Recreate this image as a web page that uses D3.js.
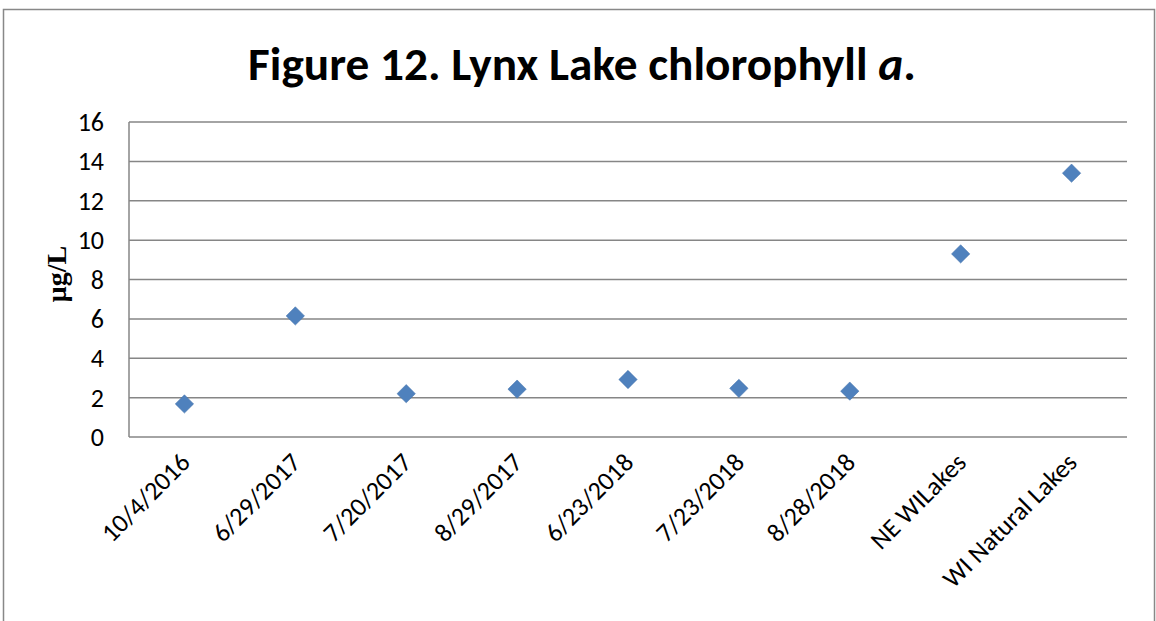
<!DOCTYPE html>
<html>
<head>
<meta charset="utf-8">
<script src="https://cdn.jsdelivr.net/npm/d3@7"></script>
<style>
  body { margin: 0; background: #fff; }
  svg { display: block; }
</style>
</head>
<body>
<svg id="chart" width="1156" height="621"></svg>
<script>
// chart data
const categories = ["10/4/2016", "6/29/2017", "7/20/2017", "8/29/2017", "6/23/2018",
                    "7/23/2018", "8/28/2018", "NE WILakes", "WI Natural Lakes"];
const chlorophyll = [1.68, 6.15, 2.2, 2.43, 2.92, 2.47, 2.33, 9.3, 13.4];
const yTicks = [0, 2, 4, 6, 8, 10, 12, 14, 16];

const svg = d3.select("#chart");
const plot = {left: 129, right: 1127, top: 122, bottom: 437};
const font = "Calibri, Carlito, 'Open Sans', sans-serif";

// outer frame
svg.append("rect")
  .attr("x", 3.5).attr("y", 9.5)
  .attr("width", 1151).attr("height", 640)
  .attr("fill", "none").attr("stroke", "#888").attr("stroke-width", 1.5);

const x = d3.scaleBand().domain(categories).range([plot.left, plot.right]);
const y = d3.scaleLinear().domain([0, 16]).range([plot.bottom, plot.top]);

// gridlines
svg.append("g").selectAll("line")
  .data(yTicks)
  .join("line")
  .attr("x1", plot.left).attr("x2", plot.right)
  .attr("y1", d => y(d)).attr("y2", d => y(d))
  .attr("stroke", "#868686").attr("stroke-width", 1.5);

// left axis line
svg.append("line")
  .attr("x1", plot.left).attr("x2", plot.left)
  .attr("y1", plot.top).attr("y2", plot.bottom)
  .attr("stroke", "#868686").attr("stroke-width", 1.5);

// y tick labels
svg.append("g").selectAll("text")
  .data(yTicks)
  .join("text")
  .attr("x", 104).attr("y", d => y(d))
  .attr("dy", "0.35em")
  .attr("text-anchor", "end")
  .style("font", "26px " + font)
  .attr("fill", "#000")
  .text(d => d);

// y axis title
svg.append("text")
  .attr("transform", "translate(66,274) rotate(-90)")
  .attr("text-anchor", "middle")
  .style("font", "bold 28px 'Liberation Serif', 'Times New Roman', serif")
  .text("μg/L");

// x labels, rotated
svg.append("g").selectAll("text")
  .data(categories)
  .join("text")
  .attr("transform", d => `translate(${x(d) + x.bandwidth() / 2 + 7},${plot.bottom + 27}) rotate(-45)`)
  .attr("text-anchor", "end")
  .style("font", "26px " + font)
  .text(d => d);

// diamond markers
const diamond = d3.symbol().type(d3.symbolDiamond2).size(215);
svg.append("g").selectAll("path")
  .data(chlorophyll)
  .join("path")
  .attr("d", diamond)
  .attr("transform", (d, i) => `translate(${x(categories[i]) + x.bandwidth() / 2},${y(d)})`)
  .attr("fill", "#4F81BD")
  .attr("stroke", "#3f6fa8").attr("stroke-width", 0.5);

// title with italic "a"
const title = svg.append("text")
  .attr("x", 582).attr("y", 80)
  .attr("text-anchor", "middle")
  .style("font", "bold 38px " + font);
title.append("tspan").text("Figure 12. Lynx Lake chlorophyll ");
title.append("tspan").style("font-style", "italic").text("a");
title.append("tspan").text(".");

// fit title width to the reference
const tw = title.node().getComputedTextLength();
if (tw > 0) {
  const fs = 38 * 668 / tw;
  title.style("font-size", fs + "px");
}
</script>
</body>
</html>
